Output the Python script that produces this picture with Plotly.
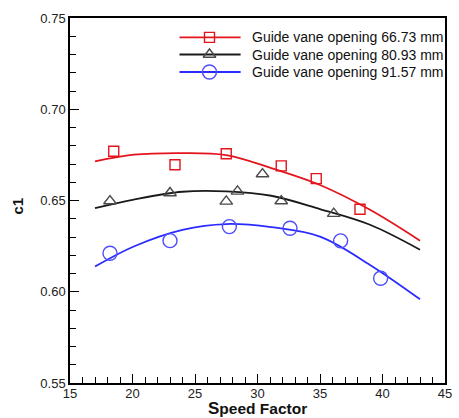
import plotly.graph_objects as go

# Measured points: speed factor vs c1 for three guide vane openings
speed_6673 = [18.5, 23.4, 27.5, 31.9, 34.7, 38.2]
c1_6673 = [0.677, 0.6696, 0.6756, 0.669, 0.662, 0.6452]

speed_8093 = [18.2, 23.0, 27.5, 28.4, 30.4, 31.9, 36.1]
c1_8093 = [0.6497, 0.6541, 0.6495, 0.655, 0.6645, 0.6497, 0.6428]

speed_9157 = [18.2, 23.0, 27.75, 32.6, 36.65, 39.85]
c1_9157 = [0.6211, 0.628, 0.6357, 0.6348, 0.6279, 0.6074]

# Fitted trend curves, sampled along the speed-factor range
fit_speed = [17.0, 20.1, 24.0, 27.5, 31.1, 35.0, 39.0, 43.0]
fit_6673 = [0.6714, 0.6751, 0.6760, 0.6749, 0.6678, 0.6585, 0.6449, 0.6280]
fit_8093 = [0.6458, 0.6505, 0.6548, 0.6550, 0.6526, 0.6453, 0.6367, 0.6230]
fit_9157 = [0.6138, 0.6248, 0.6339, 0.6371, 0.6354, 0.6302, 0.6147, 0.5959]

series_names = [
    "Guide vane opening 66.73 mm",
    "Guide vane opening 80.93 mm",
    "Guide vane opening 91.57 mm",
]

x_ticks = [15, 20, 25, 30, 35, 40, 45]
y_ticks = [0.55, 0.60, 0.65, 0.70, 0.75]

RED = "#e3141c"
BLACK = "#1a1a1a"
GRAY = "#4a4a4a"
BLUE = "#2b2bff"
BLUE_MK = "#4d4dff"

styles = [
    dict(line=RED, mk=RED, symbol="square-open", size=10),
    dict(line=BLACK, mk=GRAY, symbol="triangle-up-open", size=11),
    dict(line=BLUE, mk=BLUE_MK, symbol="circle-open", size=14),
]

fig = go.Figure()

series = [
    (speed_6673, c1_6673, fit_6673),
    (speed_8093, c1_8093, fit_8093),
    (speed_9157, c1_9157, fit_9157),
]

for (sx, sy, fy), st in zip(series, styles):
    fig.add_trace(go.Scatter(
        x=fit_speed, y=fy, mode="lines",
        line=dict(color=st["line"], width=1.8, shape="spline", smoothing=1.0),
        showlegend=False, hoverinfo="skip",
    ))
    fig.add_trace(go.Scatter(
        x=sx, y=sy, mode="markers",
        marker=dict(symbol=st["symbol"], size=st["size"], color=st["mk"],
                    line=dict(width=1.4, color=st["mk"])),
        showlegend=False,
    ))

# Key in the upper-right corner, drawn on an overlay axis spanning the plot area
key_x0, key_xm, key_x1, key_text_x = 0.292, 0.372, 0.455, 0.480
key_rows = [0.947, 0.900, 0.852]
for name, st, ry in zip(series_names, styles, key_rows):
    fig.add_trace(go.Scatter(
        x=[key_x0, key_x1], y=[ry, ry], mode="lines",
        line=dict(color=st["line"], width=1.8),
        xaxis="x2", yaxis="y2", showlegend=False, hoverinfo="skip",
    ))
    fig.add_trace(go.Scatter(
        x=[key_xm], y=[ry], mode="markers",
        marker=dict(symbol=st["symbol"], size=st["size"], color=st["mk"],
                    line=dict(width=1.4, color=st["mk"])),
        xaxis="x2", yaxis="y2", showlegend=False, hoverinfo="skip",
    ))
    fig.add_annotation(
        x=key_text_x, y=ry, xref="x2", yref="y2", text=name,
        showarrow=False, xanchor="left", yanchor="middle",
        font=dict(family="Liberation Sans, Arial", size=14, color="#111"),
    )

axis_common = dict(
    showline=True, linecolor="black", linewidth=1.5, mirror=True,
    showgrid=False, zeroline=False,
    ticks="inside", ticklen=9, tickwidth=1.3, tickcolor="black",
    tickfont=dict(family="Liberation Sans, Arial", size=13, color="#222"),
)

fig.update_layout(
    width=459, height=418,
    margin=dict(l=70, r=7, t=18, b=35),
    paper_bgcolor="white", plot_bgcolor="white",
    xaxis=dict(
        range=[15, 45], tickvals=x_ticks, ticktext=[str(v) for v in x_ticks],
        ticklabelstandoff=-2,
        minor=dict(dtick=1, ticks="inside", ticklen=6, tickwidth=1.2, tickcolor="black"),
        **axis_common,
    ),
    yaxis=dict(
        range=[0.55, 0.75], tickvals=y_ticks, ticktext=[f"{v:.2f}" for v in y_ticks],
        minor=dict(dtick=0.01, ticks="inside", ticklen=6, tickwidth=1.2, tickcolor="black"),
        **axis_common,
    ),
    xaxis2=dict(range=[0, 1], overlaying="x", visible=False, fixedrange=True),
    yaxis2=dict(range=[0, 1], overlaying="y", visible=False, fixedrange=True),
    showlegend=False,
)

fig.add_annotation(
    x=0.5, y=-0.069, xref="paper", yref="paper",
    text="<b><span style='font-size:17px'>S</span>peed Factor</b>",
    showarrow=False, xanchor="center", yanchor="middle",
    font=dict(family="Liberation Sans, Arial", size=15.5, color="#111"),
)
fig.add_annotation(
    x=-0.14, y=0.485, xref="paper", yref="paper",
    text="<b>c1</b>", textangle=-90,
    showarrow=False, xanchor="center", yanchor="middle",
    font=dict(family="Liberation Sans, Arial", size=15, color="#111"),
)

fig.write_html("out.html")
